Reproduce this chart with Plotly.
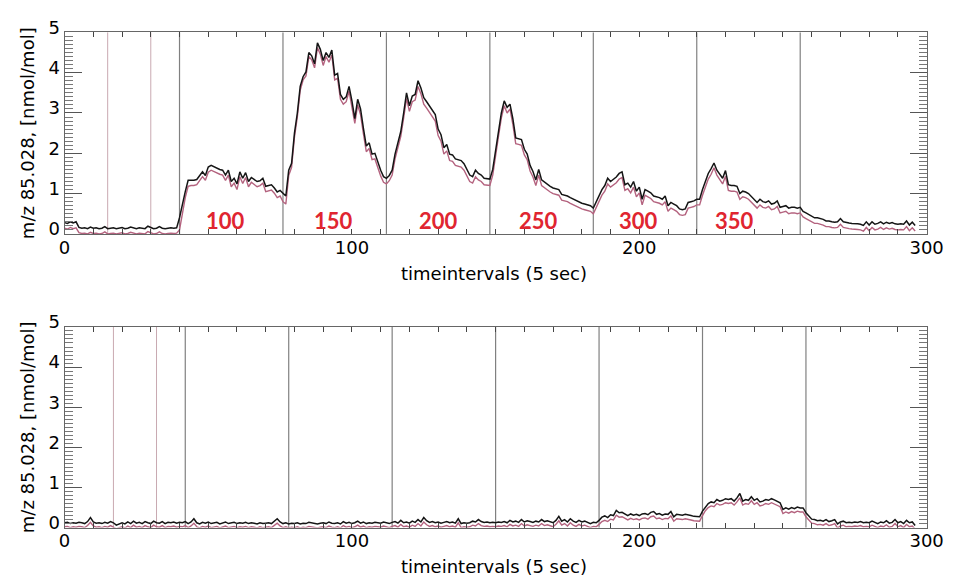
import plotly.graph_objects as go

# ---------------- data ----------------
t = list(range(0, 297))

top_black = [
    0.28, 0.26, 0.30, 0.27, 0.30, 0.16, 0.14, 0.15, 0.13, 0.17,
    0.14, 0.15, 0.13, 0.14, 0.18, 0.13, 0.14, 0.15, 0.13, 0.14,
    0.16, 0.13, 0.14, 0.17, 0.14, 0.13, 0.15, 0.14, 0.13, 0.19,
    0.15, 0.13, 0.14, 0.18, 0.14, 0.13, 0.14, 0.15, 0.14, 0.15,
    0.40, 0.75, 1.05, 1.33, 1.33, 1.33, 1.35, 1.45, 1.54, 1.45,
    1.66, 1.70, 1.66, 1.62, 1.60, 1.58, 1.46, 1.58, 1.30, 1.38,
    1.24, 1.54, 1.38, 1.52, 1.30, 1.40, 1.35, 1.30, 1.32, 1.38,
    1.18, 1.20, 1.22, 1.14, 1.04, 1.08, 1.02, 0.94, 1.58, 1.75,
    2.50, 3.00, 3.66, 3.90, 4.02, 4.50, 4.42, 4.22, 4.74, 4.58,
    4.30, 4.50, 4.38, 4.56, 3.94, 3.98, 3.46, 3.34, 3.40, 3.66,
    3.30, 2.86, 3.34, 3.10, 2.62, 2.18, 2.26, 1.98, 2.00, 1.76,
    1.58, 1.42, 1.38, 1.45, 1.58, 1.98, 2.30, 2.54, 3.00, 3.50,
    3.18, 3.42, 3.46, 3.80, 3.62, 3.38, 3.28, 3.18, 3.08, 2.96,
    2.60, 2.46, 2.14, 2.22, 1.98, 1.96, 1.86, 1.84, 1.82, 1.74,
    1.58, 1.46, 1.42, 1.58, 1.50, 1.46, 1.38, 1.37, 1.36, 1.60,
    2.10, 2.54, 3.00, 3.30, 3.14, 3.22, 2.86, 2.38, 2.36, 2.34,
    2.10, 1.98, 1.70, 1.55, 1.34, 1.60, 1.34, 1.28, 1.22, 1.18,
    1.14, 1.12, 1.10, 0.98, 0.96, 0.94, 0.90, 0.86, 0.84, 0.78,
    0.76, 0.74, 0.72, 0.70, 0.64, 0.80, 0.94, 1.10, 1.20, 1.38,
    1.30, 1.36, 1.41, 1.50, 1.54, 1.22, 1.26, 1.16, 1.30, 1.06,
    1.16, 0.86, 1.10, 1.06, 1.02, 0.94, 0.92, 0.90, 0.86, 0.94,
    0.70, 0.78, 0.74, 0.70, 0.62, 0.60, 0.62, 0.78, 0.80, 0.82,
    0.86, 0.86, 1.10, 1.30, 1.50, 1.62, 1.76, 1.58, 1.48, 1.38,
    1.57, 1.22, 1.20, 1.20, 1.18, 1.00, 1.06, 1.04, 1.00, 0.92,
    0.86, 0.78, 0.86, 0.80, 0.78, 0.82, 0.74, 0.76, 0.82, 0.66,
    0.68, 0.70, 0.64, 0.66, 0.66, 0.64, 0.66, 0.56, 0.52, 0.48,
    0.46, 0.40, 0.40, 0.38, 0.36, 0.32, 0.32, 0.30, 0.29, 0.30,
    0.38, 0.30, 0.28, 0.27, 0.26, 0.26, 0.25, 0.24, 0.21, 0.30,
    0.22, 0.30, 0.24, 0.26, 0.30, 0.25, 0.29, 0.26, 0.28, 0.25,
    0.24, 0.25, 0.24, 0.32, 0.22, 0.29, 0.21,
]

top_pink = [
    0.14, 0.12, 0.16, 0.13, 0.15, 0.03, 0.01, 0.02, 0.00, 0.04,
    0.01, 0.02, 0.00, 0.01, 0.05, 0.00, 0.01, 0.02, 0.00, 0.01,
    0.03, 0.00, 0.01, 0.04, 0.01, 0.00, 0.02, 0.01, 0.00, 0.06,
    0.02, 0.00, 0.01, 0.05, 0.01, 0.00, 0.01, 0.02, 0.01, 0.02,
    0.10, 0.55, 0.90, 1.18, 1.20, 1.20, 1.22, 1.32, 1.42, 1.33,
    1.53, 1.58, 1.54, 1.50, 1.48, 1.46, 1.33, 1.46, 1.17, 1.26,
    1.10, 1.42, 1.25, 1.40, 1.17, 1.28, 1.22, 1.17, 1.20, 1.26,
    1.05, 1.07, 1.09, 1.01, 0.90, 0.94, 0.80, 0.74, 1.45, 1.65,
    2.40, 2.90, 3.56, 3.82, 3.92, 4.40, 4.32, 4.12, 4.62, 4.46,
    4.18, 4.40, 4.26, 4.44, 3.82, 3.86, 3.34, 3.22, 3.28, 3.54,
    3.18, 2.74, 3.20, 2.96, 2.48, 2.04, 2.12, 1.84, 1.86, 1.62,
    1.44, 1.28, 1.24, 1.32, 1.46, 1.86, 2.18, 2.42, 2.88, 3.36,
    3.04, 3.28, 3.32, 3.66, 3.48, 3.22, 3.12, 3.02, 2.92, 2.80,
    2.44, 2.30, 1.98, 2.06, 1.82, 1.80, 1.70, 1.68, 1.66, 1.58,
    1.42, 1.30, 1.26, 1.42, 1.34, 1.30, 1.22, 1.21, 1.20, 1.46,
    1.98, 2.42, 2.88, 3.18, 3.00, 3.10, 2.72, 2.24, 2.22, 2.20,
    1.96, 1.84, 1.56, 1.41, 1.20, 1.46, 1.20, 1.14, 1.08, 1.04,
    1.00, 0.98, 0.96, 0.84, 0.82, 0.80, 0.76, 0.72, 0.70, 0.64,
    0.62, 0.60, 0.58, 0.56, 0.50, 0.66, 0.80, 0.96, 1.06, 1.24,
    1.16, 1.22, 1.27, 1.36, 1.40, 1.08, 1.12, 1.02, 1.16, 0.92,
    1.02, 0.72, 0.96, 0.92, 0.88, 0.80, 0.78, 0.76, 0.72, 0.80,
    0.56, 0.64, 0.60, 0.56, 0.48, 0.46, 0.48, 0.64, 0.66, 0.68,
    0.72, 0.72, 0.96, 1.16, 1.36, 1.48, 1.64, 1.46, 1.34, 1.24,
    1.43, 1.08, 1.06, 1.06, 1.04, 0.86, 0.92, 0.90, 0.86, 0.78,
    0.72, 0.64, 0.72, 0.66, 0.64, 0.68, 0.60, 0.62, 0.68, 0.52,
    0.54, 0.56, 0.50, 0.52, 0.52, 0.50, 0.52, 0.42, 0.38, 0.34,
    0.32, 0.26, 0.26, 0.24, 0.22, 0.18, 0.18, 0.16, 0.15, 0.16,
    0.24, 0.16, 0.14, 0.13, 0.12, 0.12, 0.11, 0.10, 0.07, 0.16,
    0.08, 0.16, 0.10, 0.12, 0.16, 0.11, 0.15, 0.12, 0.14, 0.11,
    0.10, 0.11, 0.10, 0.18, 0.08, 0.15, 0.07,
]

bottom_black = [
    0.12, 0.13, 0.10, 0.12, 0.11, 0.13, 0.12, 0.10, 0.15, 0.25,
    0.14, 0.11, 0.12, 0.10, 0.13, 0.11, 0.15, 0.12, 0.06, 0.10,
    0.12, 0.09, 0.14, 0.10, 0.16, 0.11, 0.13, 0.10, 0.15, 0.12,
    0.10, 0.16, 0.12, 0.11, 0.15, 0.10, 0.13, 0.12, 0.14, 0.11,
    0.13, 0.12, 0.15, 0.10, 0.14, 0.22, 0.12, 0.09, 0.13, 0.11,
    0.14, 0.10, 0.12, 0.13, 0.09, 0.12, 0.14, 0.10, 0.11, 0.13,
    0.10, 0.12, 0.11, 0.13, 0.10, 0.12, 0.11, 0.09, 0.12, 0.10,
    0.11, 0.12, 0.10, 0.15, 0.22, 0.14, 0.10, 0.12, 0.09, 0.11,
    0.10, 0.12, 0.09, 0.11, 0.10, 0.13, 0.12, 0.10, 0.09, 0.11,
    0.12, 0.10, 0.14, 0.11, 0.10, 0.12, 0.09, 0.15, 0.11, 0.13,
    0.10, 0.12, 0.16, 0.11, 0.14, 0.10, 0.12, 0.11, 0.13, 0.12,
    0.11, 0.14, 0.12, 0.10, 0.13, 0.15, 0.11, 0.18, 0.12, 0.14,
    0.11, 0.16, 0.13, 0.20, 0.14, 0.25, 0.17, 0.13, 0.15, 0.12,
    0.14, 0.11, 0.13, 0.15, 0.12, 0.14, 0.11, 0.22, 0.10, 0.12,
    0.11, 0.12, 0.16, 0.14, 0.20, 0.15, 0.13, 0.14, 0.12, 0.13,
    0.12, 0.14, 0.13, 0.15, 0.12, 0.18, 0.14, 0.16, 0.13, 0.20,
    0.14, 0.17, 0.15, 0.13, 0.16, 0.14, 0.20, 0.15, 0.17, 0.14,
    0.12, 0.18, 0.28, 0.16, 0.20, 0.14, 0.22, 0.16, 0.13, 0.18,
    0.14, 0.16, 0.12, 0.10, 0.13, 0.12, 0.18, 0.26, 0.29, 0.25,
    0.32, 0.30, 0.43, 0.37, 0.38, 0.33, 0.30, 0.34, 0.31, 0.33,
    0.30, 0.34, 0.35, 0.32, 0.38, 0.40, 0.33, 0.35, 0.31, 0.34,
    0.33, 0.40, 0.27, 0.33, 0.32, 0.31, 0.33, 0.32, 0.30, 0.28,
    0.27, 0.27, 0.41, 0.52, 0.60, 0.64, 0.62, 0.70, 0.66, 0.68,
    0.72, 0.70, 0.72, 0.66, 0.74, 0.85, 0.66, 0.70, 0.68, 0.77,
    0.68, 0.72, 0.64, 0.66, 0.70, 0.68, 0.72, 0.69, 0.66, 0.62,
    0.45, 0.49, 0.46, 0.50, 0.47, 0.51, 0.49, 0.49, 0.37, 0.30,
    0.21, 0.20, 0.17, 0.18, 0.16, 0.20, 0.15, 0.17, 0.20, 0.09,
    0.14, 0.16, 0.12, 0.13, 0.12, 0.14, 0.13, 0.15, 0.12, 0.13,
    0.12, 0.16, 0.12, 0.10, 0.14, 0.12, 0.17, 0.11, 0.13, 0.20,
    0.12, 0.15, 0.10, 0.18, 0.12, 0.14, 0.05,
]

bottom_pink = [
    0.02, 0.03, 0.00, 0.02, 0.01, 0.03, 0.02, 0.00, 0.05, 0.13,
    0.04, 0.01, 0.02, 0.00, 0.03, 0.01, 0.05, 0.02, -0.03, 0.00,
    0.02, -0.01, 0.04, 0.00, 0.06, 0.01, 0.03, 0.00, 0.05, 0.02,
    0.00, 0.06, 0.02, 0.01, 0.05, 0.00, 0.03, 0.02, 0.04, 0.01,
    0.03, 0.02, 0.05, 0.00, 0.04, 0.11, 0.02, -0.01, 0.03, 0.01,
    0.04, 0.00, 0.02, 0.03, -0.01, 0.02, 0.04, 0.00, 0.01, 0.03,
    0.00, 0.02, 0.01, 0.03, 0.00, 0.02, 0.01, -0.01, 0.02, 0.00,
    0.01, 0.02, 0.00, 0.05, 0.11, 0.04, 0.00, 0.02, -0.01, 0.01,
    0.00, 0.02, -0.01, 0.01, 0.00, 0.03, 0.02, 0.00, -0.01, 0.01,
    0.02, 0.00, 0.04, 0.01, 0.00, 0.02, -0.01, 0.05, 0.01, 0.03,
    0.00, 0.02, 0.06, 0.01, 0.04, 0.00, 0.02, 0.01, 0.03, 0.02,
    0.01, 0.04, 0.02, 0.00, 0.03, 0.05, 0.01, 0.08, 0.02, 0.04,
    0.01, 0.06, 0.03, 0.10, 0.04, 0.14, 0.07, 0.03, 0.05, 0.02,
    0.04, 0.01, 0.03, 0.05, 0.02, 0.04, 0.01, 0.12, 0.00, 0.02,
    0.01, 0.02, 0.06, 0.04, 0.10, 0.05, 0.03, 0.04, 0.02, 0.03,
    0.02, 0.04, 0.03, 0.05, 0.02, 0.08, 0.04, 0.06, 0.03, 0.10,
    0.04, 0.07, 0.05, 0.03, 0.06, 0.04, 0.10, 0.05, 0.07, 0.04,
    0.02, 0.08, 0.17, 0.06, 0.10, 0.04, 0.12, 0.06, 0.03, 0.08,
    0.04, 0.06, 0.02, 0.00, 0.03, 0.02, 0.08, 0.15, 0.18, 0.15,
    0.21, 0.19, 0.31, 0.26, 0.27, 0.22, 0.19, 0.23, 0.20, 0.22,
    0.19, 0.23, 0.24, 0.21, 0.27, 0.29, 0.22, 0.24, 0.20, 0.23,
    0.22, 0.29, 0.16, 0.22, 0.21, 0.20, 0.22, 0.21, 0.19, 0.17,
    0.16, 0.16, 0.30, 0.42, 0.50, 0.54, 0.52, 0.60, 0.56, 0.58,
    0.62, 0.60, 0.62, 0.56, 0.64, 0.74, 0.56, 0.60, 0.58, 0.67,
    0.58, 0.62, 0.54, 0.56, 0.60, 0.58, 0.62, 0.59, 0.56, 0.52,
    0.35, 0.39, 0.36, 0.40, 0.37, 0.41, 0.39, 0.39, 0.27, 0.20,
    0.11, 0.10, 0.07, 0.08, 0.06, 0.10, 0.05, 0.07, 0.10, -0.01,
    0.04, 0.06, 0.02, 0.03, 0.02, 0.04, 0.03, 0.05, 0.02, 0.03,
    0.02, 0.06, 0.02, 0.00, 0.04, 0.02, 0.07, 0.01, 0.03, 0.10,
    0.02, 0.05, 0.00, 0.08, 0.02, 0.04, -0.04,
]

top_markers_light = [15, 30]
top_markers = [40, 76, 112, 148, 184, 220, 256]
bottom_markers_light = [17, 32]
bottom_markers = [42, 78, 114, 150, 186, 222, 258]

step_labels = ["100", "150", "200", "250", "300", "350"]
step_label_t = [56, 93.5, 130.3, 165, 199.7, 233]

x_title = "timeintervals (5 sec)"
y_title = "m/z 85.028, [nmol/mol]"

# ---------------- figure ----------------
BLACK = "#151515"
PINK = "#b4637f"
FONT = "DejaVu Sans"

fig = go.Figure()
for xa, ya, pink, black in [("x", "y", top_pink, top_black),
                             ("x2", "y2", bottom_pink, bottom_black)]:
    fig.add_trace(go.Scatter(x=t, y=pink, mode="lines", xaxis=xa, yaxis=ya,
                             line=dict(color=PINK, width=1.4), showlegend=False))
    fig.add_trace(go.Scatter(x=t, y=black, mode="lines", xaxis=xa, yaxis=ya,
                             line=dict(color=BLACK, width=1.5), showlegend=False))

shapes = []
for xref, yref, light, dark in [("x", "y domain", top_markers_light, top_markers),
                                ("x2", "y2 domain", bottom_markers_light, bottom_markers)]:
    for v in light:
        shapes.append(dict(type="line", xref=xref, yref=yref, x0=v, x1=v, y0=0, y1=1,
                           line=dict(color="#c9a9b1", width=1), layer="below"))
    for v in dark:
        shapes.append(dict(type="line", xref=xref, yref=yref, x0=v, x1=v, y0=0, y1=1,
                           line=dict(color="#808080", width=1.2), layer="below"))

annotations = []
for lab, pos in zip(step_labels, step_label_t):
    annotations.append(dict(x=pos, y=0.34, xref="x", yref="y", text="<b>" + lab + "</b>",
                            showarrow=False,
                            font=dict(family="Lato", size=22, color="#e02530"),
                            xanchor="center", yanchor="middle"))
for ycen in (267, 571):
    annotations.append(dict(x=500 / 970, y=1 - ycen / 586, xref="paper", yref="paper",
                            text=x_title, showarrow=False, xanchor="center", yanchor="middle",
                            font=dict(family=FONT, size=18, color="black")))
for ycen in (121, 426):
    annotations.append(dict(x=22 / 970, y=1 - ycen / 586, xref="paper", yref="paper",
                            text=y_title, showarrow=False, textangle=-90,
                            xanchor="center", yanchor="middle",
                            font=dict(family=FONT, size=18, color="black")))

xdom = [60 / 970, 943 / 970]
xcommon = dict(range=[0, 300], tickvals=[0, 100, 200, 300], ticks="inside", ticklen=5,
               tickcolor="#444", showline=True, linecolor="#666", linewidth=1,
               mirror="ticks", showgrid=False, zeroline=False, ticklabelstandoff=-3,
               minor=dict(dtick=10, ticks="inside", ticklen=5, tickcolor="#444", showgrid=False),
               tickfont=dict(family=FONT, size=18, color="black"), domain=xdom)
ycommon = dict(range=[0, 5], tickvals=[0, 1, 2, 3, 4, 5], ticks="inside", ticklen=17,
               tickcolor="#555", showline=True, linecolor="#666", linewidth=1,
               mirror="ticks", showgrid=False, zeroline=False,
               minor=dict(dtick=0.1, ticks="inside", ticklen=8, tickcolor="#777", showgrid=False),
               tickfont=dict(family=FONT, size=18, color="black"), ticklabelshift=-5)

fig.update_layout(
    width=970, height=586, margin=dict(l=0, r=0, t=0, b=0),
    paper_bgcolor="white", plot_bgcolor="white",
    xaxis=dict(**xcommon, anchor="y"),
    yaxis=dict(**ycommon, anchor="x", domain=[1 - 226 / 586, 1 - 17 / 586]),
    xaxis2=dict(**xcommon, anchor="y2"),
    yaxis2=dict(**ycommon, anchor="x2", domain=[1 - 530.6 / 586, 1 - 322.5 / 586]),
    shapes=shapes, annotations=annotations,
)

fig.write_html("out.html")
